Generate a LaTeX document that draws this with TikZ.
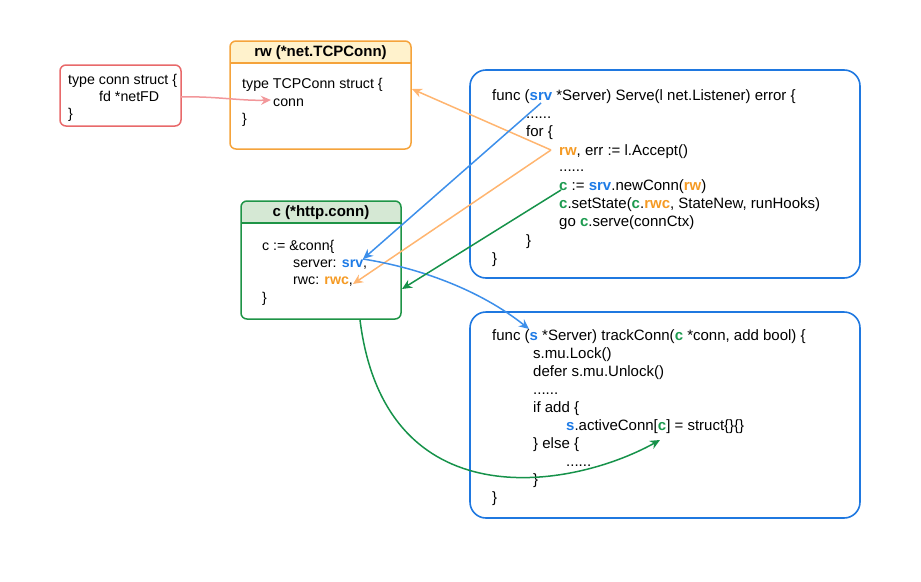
\documentclass[tikz,border=0pt]{standalone}
\usepackage{fontspec}
\setmainfont{Liberation Sans}
\usetikzlibrary{arrows.meta}
\definecolor{redline}{HTML}{E8696A}
\definecolor{pinkarrow}{HTML}{F2979A}
\definecolor{orline}{HTML}{F5A33B}
\definecolor{orfill}{HTML}{FFF2CC}
\definecolor{ortext}{HTML}{F59A23}
\definecolor{orarrow}{HTML}{FFB570}
\definecolor{grline}{HTML}{1E9446}
\definecolor{grfill}{HTML}{D5E8D4}
\definecolor{grtext}{HTML}{1C9A4F}
\definecolor{grarrow}{HTML}{16924A}
\definecolor{blline}{HTML}{1F78E0}
\definecolor{bltext}{HTML}{1E7BE6}
\definecolor{blarrow}{HTML}{3D8FEA}
\newcommand\kblue[1]{\textcolor{bltext}{\textbf{#1}}}
\newcommand\korange[1]{\textcolor{ortext}{\textbf{#1}}}
\newcommand\kgreen[1]{\textcolor{grtext}{\textbf{#1}}}
\begin{document}
\begin{tikzpicture}[x=1pt,y=-1pt,
  txt/.style={anchor=base west, inner sep=0pt, font=\fontsize{14.2}{17}\selectfont},
  btxt/.style={anchor=base west, inner sep=0pt, font=\fontsize{15}{18}\selectfont},
  hdr/.style={anchor=center, inner sep=0pt, font=\fontsize{15}{18}\selectfont\bfseries},
  boxr/.style={draw, line width=1.5pt, rounded corners=6pt, inner sep=0pt},
  boxb/.style={draw=blline, line width=1.6pt, rounded corners=16pt, inner sep=0pt},
  conn/.style={line width=1.5pt, -{Stealth[length=10pt,width=9pt]}}]
\useasboundingbox (0,0) rectangle (921,581);

% red box
\node[boxr, draw=redline, minimum width=121pt, minimum height=61pt] (redbox) at (120.5,95.5) {};
\node[txt] (r1) at (68,84) {type conn struct \{};
\node[txt] (r2) at (99,101) {fd *netFD};
\node[txt] (r3) at (68,118) {\}};

% orange box
\path[fill=orfill] (230,63) [rounded corners=6pt] -- (230,41) -- (411,41) [sharp corners] -- (411,63) -- cycle;
\draw[orline, line width=1.5pt] (230,63) -- (411,63);
\node[boxr, draw=orline, minimum width=181pt, minimum height=108pt] (orbox) at (320.5,95) {};
\node[hdr] (orhdr) at (320.5,53) {rw (*net.TCPConn)};
\node[txt] (o1) at (242,88) {type TCPConn struct \{};
\node[txt] (o2) at (273,106) {conn};
\node[txt] (o3) at (242,123) {\}};

% green box
\path[fill=grfill] (241,223) [rounded corners=6pt] -- (241,201) -- (401,201) [sharp corners] -- (401,223) -- cycle;
\draw[grline, line width=1.5pt] (241,223) -- (401,223);
\node[boxr, draw=grline, minimum width=160pt, minimum height=118pt] (grbox) at (321,260) {};
\node[hdr] (grhdr) at (321,213) {c (*http.conn)};
\node[txt] (g1) at (262,250) {c := \&conn\{};
\node[txt] (g2) at (293,267) {server: \kblue{srv},};
\node[txt] (g3) at (293,284) {rwc: \korange{rwc},};
\node[txt] (g4) at (262,302) {\}};

% blue box 1
\node[boxb, minimum width=390pt, minimum height=208pt] (serve) at (665,174) {};
\node[btxt] (a1) at (492,100) {func (\kblue{srv} *Server) Serve(l net.Listener) error \{};
\node[btxt] (a2) at (526,118) {......};
\node[btxt] (a3) at (526,136) {for \{};
\node[btxt] (a4) at (559,155) {\korange{rw}, err := l.Accept()};
\node[btxt] (a5) at (559,171) {......};
\node[btxt] (a6) at (559,190) {\kgreen{c} := \kblue{srv}.newConn(\korange{rw})};
\node[btxt] (a7) at (559,208) {\kgreen{c}.setState(\kgreen{c}.\korange{rwc}, StateNew, runHooks)};
\node[btxt] (a8) at (559,226) {go \kgreen{c}.serve(connCtx)};
\node[btxt] (a9) at (526,245) {\}};
\node[btxt] (a10) at (492,263) {\}};

% blue box 2
\node[boxb, minimum width=390pt, minimum height=206pt] (track) at (665,415) {};
\node[btxt] (b1) at (492,340) {func (\kblue{s} *Server) trackConn(\kgreen{c} *conn, add bool) \{};
\node[btxt] (b2) at (533,358) {s.mu.Lock()};
\node[btxt] (b3) at (533,376) {defer s.mu.Unlock()};
\node[btxt] (b4) at (533,394) {......};
\node[btxt] (b5) at (533,412) {if add \{};
\node[btxt] (b6) at (566,430) {\kblue{s}.activeConn[\kgreen{c}] = struct\{\}\{\}};
\node[btxt] (b7) at (533,448) {\} else \{};
\node[btxt] (b8) at (566,466) {......};
\node[btxt] (b9) at (533,484) {\}};
\node[btxt] (b10) at (492,502) {\}};

% anchor coordinates
\coordinate (rwsrc) at (551,150);
\coordinate (srvsrc) at (541,103);
\coordinate (csrc) at (561,190);
\coordinate (srvdst) at (363,259);
\coordinate (rwcdst) at (353,284);
\coordinate (grin) at (402,289);
\coordinate (conndst) at (271,100);
\coordinate (fdsrc) at (181,97);
\coordinate (orin) at (412,89);
\coordinate (sdst) at (529,329);
\coordinate (grout) at (360,320);
\coordinate (cdst) at (660,440);

% connectors
\draw[conn, pinkarrow] (fdsrc) .. controls (215,96) and (240,101) .. (conndst);
\draw[conn, orarrow] (rwsrc) -- (orin);
\draw[conn, orarrow] (rwsrc) -- (rwcdst);
\draw[conn, blarrow] (srvsrc) -- (srvdst);
\draw[conn, blarrow] (srvdst) .. controls (420,268) and (480,290) .. (sdst);
\draw[conn, grarrow] (csrc) -- (grin);
\draw[conn, grarrow] (grout) .. controls (385,520) and (570,490) .. (cdst);
\end{tikzpicture}
\end{document}
